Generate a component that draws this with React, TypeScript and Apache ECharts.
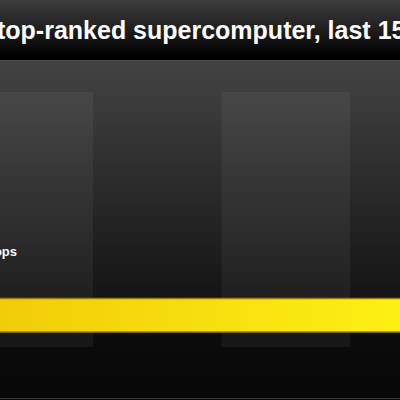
import React, { useEffect, useRef } from 'react';
import * as echarts from 'echarts';

// data
const titleText = 'top-ranked supercomputer, last 15 years';
const yLabels = ['', 'Petaflops', ' ', '  '];
const barValues = [4, null, null, null];
const xMin = 0;
const xMax = 4;
const xInterval = 1;

export default function App() {
  const chartRef = useRef<HTMLDivElement>(null);

  useEffect(() => {
    const chart = echarts.init(chartRef.current, null, { renderer: 'svg' });

    const option = {
      animation: false,
      backgroundColor: '#000000',
      graphic: [
        // title band
        {
          type: 'rect',
          z: -1,
          shape: { x: 0, y: 0, width: 400, height: 60 },
          style: {
            fill: new echarts.graphic.LinearGradient(0, 0, 0, 1, [
              { offset: 0, color: '#3e3e3e' },
              { offset: 0.95, color: '#000000' },
              { offset: 1, color: '#000000' }
            ])
          }
        },
        // plot background
        {
          type: 'rect',
          z: -1,
          shape: { x: 0, y: 60, width: 400, height: 340 },
          style: {
            fill: new echarts.graphic.LinearGradient(0, 0, 0, 1, [
              { offset: 0, color: '#424242' },
              { offset: 0.1, color: '#3d3d3d' },
              { offset: 0.85, color: '#0a0a0a' },
              { offset: 1, color: '#070707' }
            ])
          }
        },
        {
          type: 'rect',
          z: -1,
          shape: { x: 0, y: 60, width: 400, height: 1 },
          style: { fill: '#4a4a4a' }
        },
        {
          type: 'rect',
          z: -1,
          shape: { x: 0, y: 398, width: 400, height: 1 },
          style: { fill: '#383838' }
        },
        {
          type: 'text',
          z: 10,
          x: -3,
          y: 30,
          style: {
            text: titleText,
            fill: '#ffffff',
            font: 'bold 25px "Liberation Sans", Arial, sans-serif',
            align: 'left',
            verticalAlign: 'middle'
          }
        }
      ],
      grid: {
        left: -35.5,
        right: -78.5,
        top: 92,
        bottom: 53,
        containLabel: false,
        outerBoundsMode: 'none'
      },
      xAxis: {
        type: 'value',
        min: xMin,
        max: xMax,
        interval: xInterval,
        axisLine: { show: false },
        axisTick: { show: false },
        axisLabel: { show: false },
        splitLine: { show: false },
        splitArea: {
          show: true,
          areaStyle: { color: ['rgba(255,255,255,0.05)', 'rgba(0,0,0,0)'] }
        }
      },
      yAxis: {
        type: 'category',
        data: yLabels,
        axisLine: { show: false },
        axisTick: { show: false },
        splitLine: { show: false },
        axisLabel: {
          inside: true,
          align: 'right',
          margin: 52.5,
          padding: [3, 0, 0, 0],
          color: '#ffffff',
          fontFamily: 'Liberation Sans',
          fontWeight: 'bold',
          fontSize: 13
        },
        z: 10
      },
      series: [
        {
          type: 'bar',
          data: barValues,
          barWidth: 35,
          itemStyle: {
            color: new echarts.graphic.LinearGradient(0, 0, 1, 0, [
              { offset: 0, color: '#f0c908' },
              { offset: 1, color: '#fff716' }
            ]),
            borderColor: '#9c7c0c',
            borderWidth: 1.5
          }
        }
      ]
    };

    chart.setOption(option);
    return () => {
      chart.dispose();
    };
  }, []);

  return (
    <div
      ref={chartRef}
      style={{ position: 'fixed', left: 0, top: 0, width: '400px', height: '400px' }}
    ></div>
  );
}
